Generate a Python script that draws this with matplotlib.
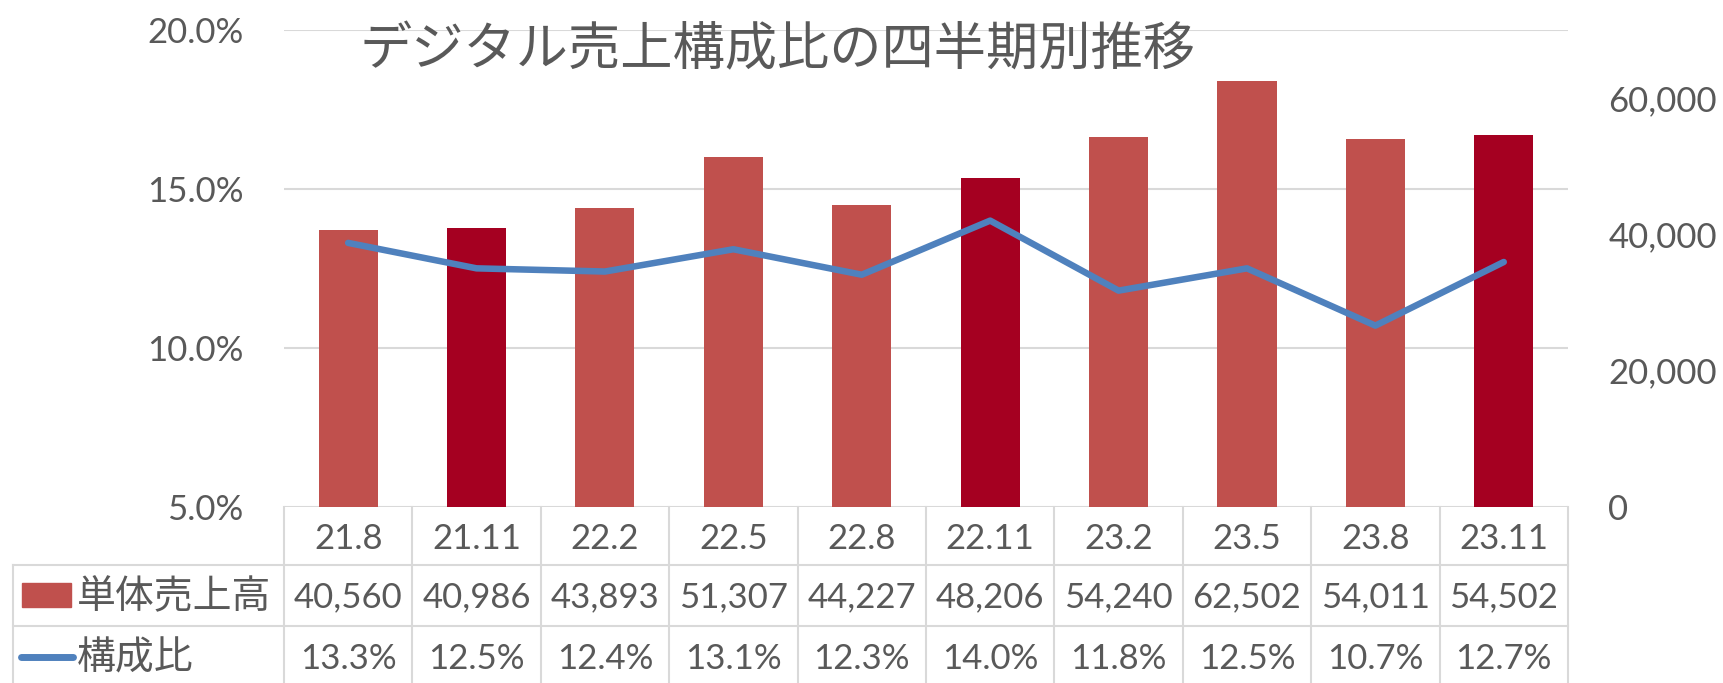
import matplotlib
matplotlib.use("Agg")
from matplotlib import pyplot as plt
from matplotlib.ticker import FuncFormatter
from matplotlib.patches import Rectangle
from matplotlib.lines import Line2D
import matplotlib.transforms as mtransforms
import numpy as np

plt.rcParams['font.family'] = ['Lato', 'Noto Sans CJK JP', 'DejaVu Sans']

# data
categories = ['21.8', '21.11', '22.2', '22.5', '22.8', '22.11', '23.2', '23.5', '23.8', '23.11']
sales = [40560, 40986, 43893, 51307, 44227, 48206, 54240, 62502, 54011, 54502]
ratio = [13.3, 12.5, 12.4, 13.1, 12.3, 14.0, 11.8, 12.5, 10.7, 12.7]
title = 'デジタル売上構成比の四半期別推移'
sales_label = '単体売上高'
ratio_label = '構成比'

GRAY = '#595959'
GRID = '#D9D9D9'
BAR = '#C0504D'
BAR_DARK = '#A50021'
LINE = '#4F81BD'

x = np.arange(len(categories))
bar_colors = [BAR_DARK if c.endswith('.11') else BAR for c in categories]

fig = plt.figure(figsize=(17.24, 6.83), dpi=100)
ax = fig.add_axes([0.1647, 0.2577, 0.7448, 0.6988])

# percentage axis (left) with gridlines
ax.set_xlim(-0.5, len(categories) - 0.5)
ax.set_ylim(5, 20)
ax.set_yticks([5, 10, 15, 20])
ax.yaxis.set_major_formatter(FuncFormatter(lambda v, p: f'{v:.1f}%'))
ax.grid(axis='y', color=GRID, linewidth=1.5)
ax.set_axisbelow(True)
ax.tick_params(axis='y', length=0, pad=29, labelsize=25, labelcolor=GRAY)
ax.set_xticks([])
for s in ax.spines.values():
    s.set_visible(False)

# bars (right axis)
ax2 = ax.twinx()
ax2.bar(x, sales, width=0.46, color=bar_colors, zorder=2)
ax2.set_ylim(0, 70000)
ax2.set_yticks([0, 20000, 40000, 60000])
ax2.yaxis.set_major_formatter(FuncFormatter(lambda v, p: f'{int(v):,}'))
ax2.tick_params(axis='y', length=0, pad=29, labelsize=25, labelcolor=GRAY)
for s in ax2.spines.values():
    s.set_visible(False)

# line on top, same scale as left axis
ax3 = ax.twinx()
ax3.plot(x, ratio, color=LINE, linewidth=4.7, solid_capstyle='round', solid_joinstyle='round')
ax3.set_ylim(ax.get_ylim())
ax3.set_yticks([])
for s in ax3.spines.values():
    s.set_visible(False)
ax3.set_xlim(ax.get_xlim())

# title
fig.text(0.451, 0.926, title, ha='center', va='center', fontsize=37.6, color=GRAY,
         family=['Noto Sans CJK JP', 'DejaVu Sans'])

# data table below the plot
tr = mtransforms.blended_transform_factory(ax.transData, ax.transAxes)
row_lines = [0.0, -0.1215, -0.2493]
left_edge = -0.211
tbl_bottom = -0.40
lw = 1.5
for b in np.arange(len(categories) + 1) - 0.5:
    ax.add_line(Line2D([b, b], [0, tbl_bottom], transform=tr, color=GRID, lw=lw, clip_on=False))
ax.add_line(Line2D([left_edge, left_edge], [row_lines[1], tbl_bottom], transform=ax.transAxes,
                   color=GRID, lw=lw, clip_on=False))
for y in row_lines[1:]:
    ax.add_line(Line2D([left_edge, 1.0], [y, y], transform=ax.transAxes, color=GRID, lw=lw, clip_on=False))

row_y = [-0.0666, -0.1886, -0.3177]
for i, c in enumerate(categories):
    ax.text(x[i], row_y[0], c, transform=tr, ha='center', va='center', fontsize=25, color=GRAY)
    ax.text(x[i], row_y[1], f'{sales[i]:,}', transform=tr, ha='center', va='center', fontsize=25, color=GRAY)
    ax.text(x[i], row_y[2], f'{ratio[i]:.1f}%', transform=tr, ha='center', va='center', fontsize=25, color=GRAY)

# row headers with legend keys
fig.patches.append(Rectangle((22 / 1724, 1 - 607 / 683), 49 / 1724, 24 / 683,
                             transform=fig.transFigure, color=BAR))
fig.lines.append(Line2D([21 / 1724, 73 / 1724], [1 - 657 / 683, 1 - 657 / 683], transform=fig.transFigure,
                        color=LINE, linewidth=5, solid_capstyle='round'))
ax.text(-0.1612, row_y[1], sales_label, transform=ax.transAxes, ha='left', va='center',
        fontsize=28, color=GRAY, family=['Noto Sans CJK JP', 'DejaVu Sans'])
ax.text(-0.1612, row_y[2], ratio_label, transform=ax.transAxes, ha='left', va='center',
        fontsize=28, color=GRAY, family=['Noto Sans CJK JP', 'DejaVu Sans'])

fig.savefig('out.png', dpi=100)
